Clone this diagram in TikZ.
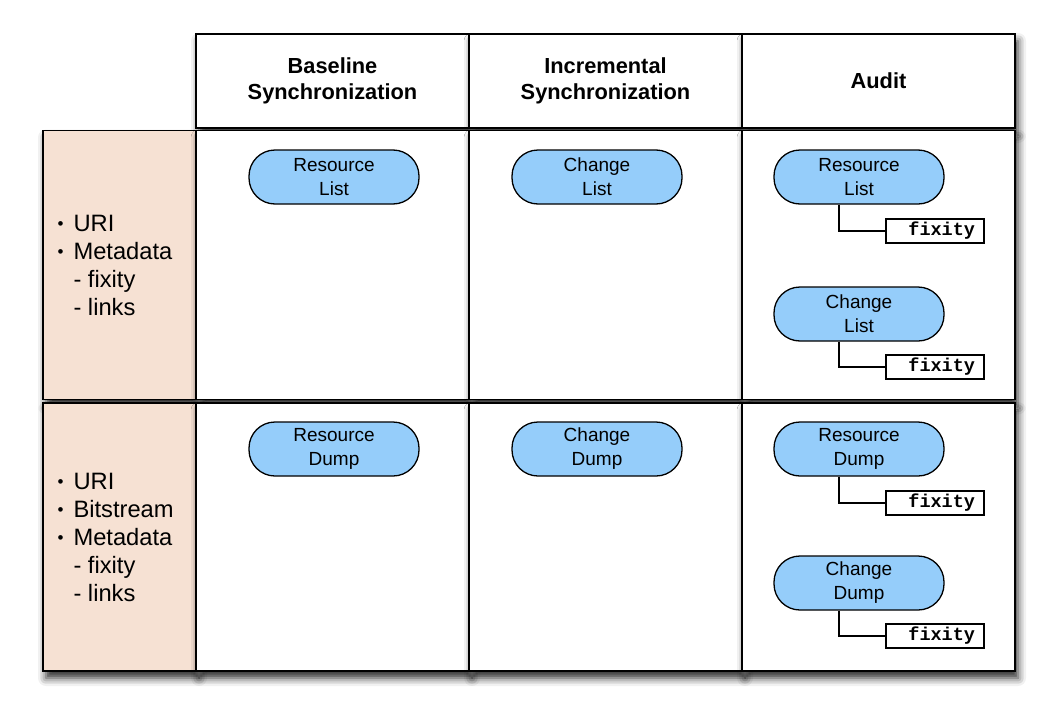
\documentclass[tikz,border=0pt]{standalone}
\usepackage{fontspec}
\setmainfont{Liberation Sans}
\setmonofont{Liberation Mono}
\usepackage{tikz}
\usetikzlibrary{calc,shadows.blur}
\definecolor{peach}{RGB}{246,225,211}
\definecolor{pillblue}{RGB}{149,205,250}
\newcommand{\itemdot}{\makebox[16pt][l]{\raisebox{2pt}{\fontsize{17}{17}\selectfont\textbullet}}}
\newcommand{\subdash}{\hspace*{16pt}- }

\tikzset{
  cell/.style={draw, line width=1.8pt, fill=white, inner sep=0pt, minimum width=273pt,
    blur shadow={shadow xshift=3pt, shadow yshift=-7pt, shadow blur radius=8pt, shadow opacity=85}},
  headcell/.style={cell, minimum height=94pt, align=center, font=\fontsize{21.8}{26}\selectfont\bfseries},
  sidecell/.style={cell, fill=peach, minimum width=153pt},
  pill/.style={draw, line width=1.3pt, fill=pillblue, rounded corners=26pt, minimum width=170pt,
    minimum height=54pt, inner sep=0pt, align=center, font=\fontsize{19}{24}\selectfont},
  fixbox/.style={draw, line width=1.3pt, fill=white, minimum width=98pt, minimum height=24pt,
    inner sep=0pt, text width=80pt, align=right, font=\fontsize{18.5}{18.5}\selectfont\ttfamily\bfseries},
  link/.style={line width=1.3pt},
  sidetext/.style={anchor=west, align=left, font=\fontsize{23.7}{28}\selectfont}
}

\begin{document}
\begin{tikzpicture}[x=1pt, y=-1pt]
  \useasboundingbox (0,0) rectangle (1054,720);
  % header row
  \node[headcell] (hbase) at (332.5,81) {Baseline\\Synchronization};
  \node[headcell] (hincr) at (605.5,81) {Incremental\\Synchronization};
  \node[headcell] (haudit) at (878.5,81) {Audit};
  % first row: lists
  \node[sidecell, minimum height=269pt] (side1) at (119.5,265) {};
  \node[cell, minimum height=269pt] (c11) at (332.5,265) {};
  \node[cell, minimum height=269pt] (c12) at (605.5,265) {};
  \node[cell, minimum height=269pt] (c13) at (878.5,265) {};
  % second row: dumps
  \node[sidecell, minimum height=268pt] (side2) at (119.5,537) {};
  \node[cell, minimum height=268pt] (c21) at (332.5,537) {};
  \node[cell, minimum height=268pt] (c22) at (605.5,537) {};
  \node[cell, minimum height=268pt] (c23) at (878.5,537) {};
  % side labels
  \node[sidetext] (info1) at (54,265)
    {\itemdot URI\\ \itemdot Metadata\\ \subdash fixity\\ \subdash links};
  \node[sidetext] (info2) at (54,537)
    {\itemdot URI\\ \itemdot Bitstream\\ \itemdot Metadata\\ \subdash fixity\\ \subdash links};
  % lists
  \node[pill] (rlist) at (334,177) {Resource\\List};
  \node[pill] (clist) at (597,177) {Change\\List};
  \node[pill] (rlista) at (859,177) {Resource\\List};
  \node[pill] (clista) at (859,314) {Change\\List};
  \node[fixbox] (fixa) at (935,231) {fixity};
  \node[fixbox] (fixb) at (935,367) {fixity};
  \draw[link] ($(rlista.south)+(-20,0)$) |- (fixa.west);
  \draw[link] ($(clista.south)+(-20,0)$) |- (fixb.west);
  % dumps
  \node[pill] (rdump) at (334,449) {Resource\\Dump};
  \node[pill] (cdump) at (597,449) {Change\\Dump};
  \node[pill] (rdumpa) at (859,449) {Resource\\Dump};
  \node[pill] (cdumpa) at (859,583) {Change\\Dump};
  \node[fixbox] (fixc) at (935,503) {fixity};
  \node[fixbox] (fixd) at (935,636) {fixity};
  \draw[link] ($(rdumpa.south)+(-20,0)$) |- (fixc.west);
  \draw[link] ($(cdumpa.south)+(-20,0)$) |- (fixd.west);
\end{tikzpicture}
\end{document}
